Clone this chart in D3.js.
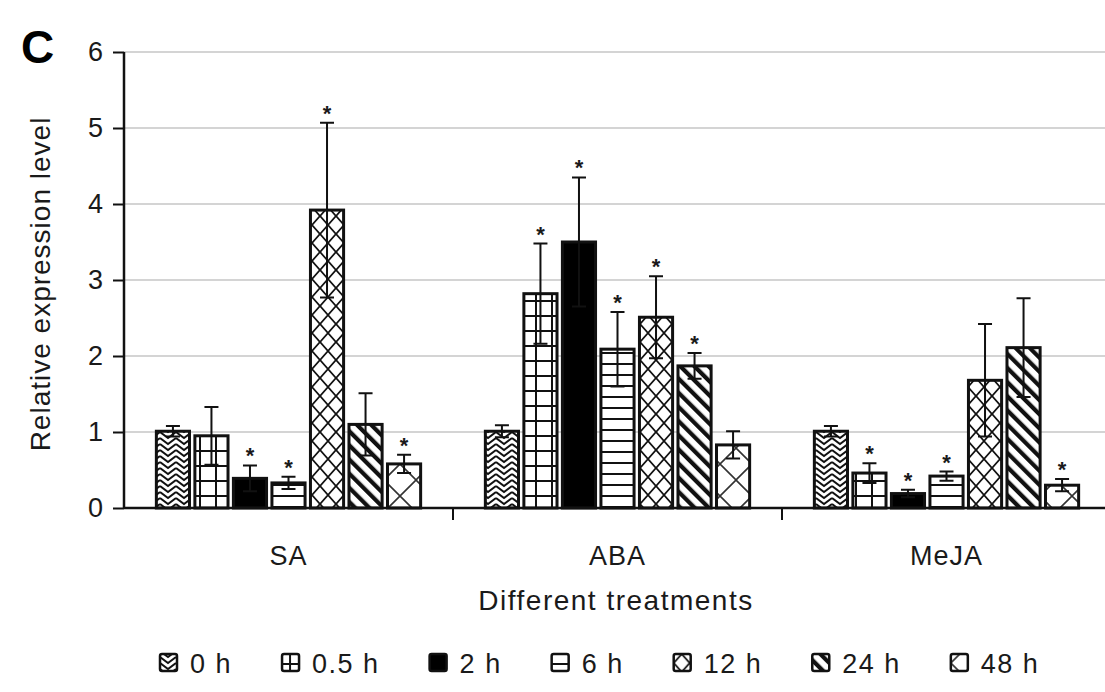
<!doctype html>
<html>
  <head>
    <script src="https://cdnjs.cloudflare.com/ajax/libs/d3/7.8.5/d3.min.js"></script>
    <style>
      body { margin: 0; background: #fff; }
      text { font-family: "Liberation Sans", Arial, sans-serif; fill: #1a1a1a; }
      .grid line { stroke: #d4d4d4; stroke-width: 2; }
      .bar { stroke: #111; stroke-width: 3; }
      .err { stroke: #111; stroke-width: 2; fill: none; }
    </style>
  </head>
  <body>
    <svg id="chart" width="1105" height="692"></svg>
    <script>
      // values
      var groups = ["SA", "ABA", "MeJA"];
      var times = ["0 h", "0.5 h", "2 h", "6 h", "12 h", "24 h", "48 h"];
      var SA = [1.01, 0.95, 0.39, 0.33, 3.92, 1.10, 0.58];
      var SAerr = [0.07, 0.38, 0.17, 0.08, 1.15, 0.41, 0.12];
      var ABA = [1.01, 2.82, 3.50, 2.09, 2.51, 1.87, 0.83];
      var ABAerr = [0.08, 0.66, 0.85, 0.49, 0.54, 0.17, 0.18];
      var MeJA = [1.01, 0.46, 0.19, 0.42, 1.68, 2.11, 0.30];
      var MeJAerr = [0.07, 0.13, 0.05, 0.06, 0.74, 0.65, 0.08];
      var SAstar = [0, 0, 1, 1, 1, 0, 1];
      var ABAstar = [0, 1, 1, 1, 1, 1, 0];
      var MeJAstar = [0, 1, 1, 1, 0, 0, 1];
      var yTicks = [0, 1, 2, 3, 4, 5, 6];

      var means = [SA, ABA, MeJA], errs = [SAerr, ABAerr, MeJAerr], stars = [SAstar, ABAstar, MeJAstar];
      var rows = [];
      groups.forEach(function(g, gi) {
        times.forEach(function(t, ti) {
          rows.push({ group: g, time: t, ti: ti, v: means[gi][ti], e: errs[gi][ti], star: stars[gi][ti] });
        });
      });

      var svg = d3.select("#chart");
      var pLeft = 124, pRight = 1111, pTop = 52, pBottom = 508;

      var x0 = d3.scaleBand().domain(groups).range([pLeft, pRight]).padding(0);
      var x1 = d3.scaleBand().domain(times).range([0, x0.bandwidth()]).paddingInner(0.14).paddingOuter(0.84);
      var y = d3.scaleLinear().domain([0, 6]).range([pBottom, pTop]);

      // hatch patterns, one per time point
      var defs = svg.append("defs");
      function pat(id, w, h, draw, tr) {
        var p = defs.append("pattern").attr("id", id).attr("patternUnits", "userSpaceOnUse")
          .attr("width", w).attr("height", h);
        if (tr) p.attr("patternTransform", tr);
        p.append("rect").attr("width", w).attr("height", h).attr("fill", "#fff");
        draw(p);
      }
      pat("p0", 16, 12, function(p) {
        p.append("path").attr("d", "M0,0 L8,6 L16,0 M0,6 L8,12 L16,6 M0,12 L8,18 L16,12 M0,-6 L8,0 L16,-6")
          .attr("stroke", "#111").attr("stroke-width", 2).attr("fill", "none");
      });
      pat("p1", 16, 15, function(p) {
        p.append("path").attr("d", "M0,1 H16 M8,0 V15").attr("stroke", "#111").attr("stroke-width", 2);
      });
      pat("p2", 10, 10, function(p) {
        p.append("rect").attr("width", 10).attr("height", 10).attr("fill", "#000");
      });
      pat("p3", 10, 11, function(p) {
        p.append("path").attr("d", "M0,1 H10").attr("stroke", "#111").attr("stroke-width", 2);
      });
      pat("p4", 16, 18, function(p) {
        p.append("path").attr("d", "M0,0 L16,18 M16,0 L0,18").attr("stroke", "#111").attr("stroke-width", 1.8);
      });
      pat("p5", 10, 10, function(p) {
        p.append("path").attr("d", "M2,0 V10").attr("stroke", "#111").attr("stroke-width", 4.5);
      }, "rotate(-45)");
      pat("p6", 32, 32, function(p) {
        p.append("path").attr("d", "M0,0 L32,32 M32,0 L0,32").attr("stroke", "#333").attr("stroke-width", 1.6);
      });

      // gridlines
      svg.append("g").attr("class", "grid")
        .selectAll("line").data(yTicks.slice(1)).enter().append("line")
        .attr("x1", pLeft).attr("x2", 1105)
        .attr("y1", function(d) { return y(d); }).attr("y2", function(d) { return y(d); });

      // bars
      var bars = svg.append("g");
      bars.selectAll("rect").data(rows).enter().append("rect")
        .attr("class", "bar")
        .attr("x", function(d) { return x0(d.group) + x1(d.time); })
        .attr("width", x1.bandwidth())
        .attr("y", function(d) { return y(d.v); })
        .attr("height", function(d) { return y(0) - y(d.v); })
        .attr("fill", function(d) { return "url(#p" + d.ti + ")"; });

      // error bars
      var cap = 7;
      var eb = svg.append("g").attr("class", "err");
      eb.selectAll("path").data(rows).enter().append("path")
        .attr("d", function(d) {
          var cx = x0(d.group) + x1(d.time) + x1.bandwidth() / 2;
          var hi = y(d.v + d.e), lo = y(d.v - d.e);
          return "M" + cx + "," + lo + "V" + hi +
            "M" + (cx - cap) + "," + hi + "H" + (cx + cap) +
            "M" + (cx - cap) + "," + lo + "H" + (cx + cap);
        });

      // significance stars
      svg.append("g").selectAll("text").data(rows.filter(function(d) { return d.star; })).enter().append("text")
        .attr("x", function(d) { return x0(d.group) + x1(d.time) + x1.bandwidth() / 2; })
        .attr("y", function(d) { return y(d.v + d.e) - 2; })
        .attr("text-anchor", "middle")
        .style("font-size", "22px").style("font-weight", "bold")
        .text("*");

      // y axis
      var yAxis = svg.append("g").attr("transform", "translate(" + pLeft + ",0)")
        .call(d3.axisLeft(y).tickValues(yTicks).tickSize(11).tickPadding(10).tickFormat(d3.format("d")));
      yAxis.select(".domain").attr("stroke", "#111").attr("stroke-width", 2.5).attr("d", "M0," + pTop + "V" + pBottom);
      yAxis.selectAll(".tick line").attr("stroke", "#111").attr("stroke-width", 2);
      yAxis.selectAll(".tick text").style("font-size", "27px").style("font-family", "Liberation Sans, Arial").attr("fill", "#1a1a1a");

      // x axis
      var xAxis = svg.append("g").attr("transform", "translate(0," + pBottom + ")");
      xAxis.append("line").attr("x1", pLeft).attr("x2", 1105).attr("stroke", "#111").attr("stroke-width", 2.5);
      xAxis.selectAll(".gt").data(groups.slice(1)).enter().append("line")
        .attr("x1", function(d) { return x0(d); }).attr("x2", function(d) { return x0(d); })
        .attr("y1", 0).attr("y2", 12).attr("stroke", "#111").attr("stroke-width", 2);
      xAxis.selectAll(".gl").data(groups).enter().append("text")
        .attr("x", function(d) { return x0(d) + x0.bandwidth() / 2; })
        .attr("y", 57).attr("text-anchor", "middle")
        .style("font-size", "27px").style("letter-spacing", "1px")
        .text(function(d) { return d; });

      svg.append("text").attr("x", 616).attr("y", 610).attr("text-anchor", "middle")
        .style("font-size", "28px").style("letter-spacing", "1.5px")
        .text("Different treatments");

      svg.append("text").attr("transform", "translate(50,284) rotate(-90)").attr("text-anchor", "middle")
        .style("font-size", "28px").style("letter-spacing", "1px")
        .text("Relative expression level");

      svg.append("text").attr("x", 21).attr("y", 63)
        .style("font-size", "46px").style("font-weight", "bold").style("fill", "#000")
        .text("C");

      // legend
      var leg = svg.append("g").attr("transform", "translate(0,663)");
      var lx = 160;
      times.forEach(function(t, i) {
        var it = leg.append("g").attr("transform", "translate(" + lx + ",0)");
        it.append("rect").attr("x", 0).attr("y", -9).attr("width", 17).attr("height", 17)
          .attr("fill", "url(#p" + i + ")").attr("stroke", "#111").attr("stroke-width", 2.5).attr("rx", 2);
        var tx = it.append("text").attr("x", 30).attr("y", 10)
          .style("font-size", "27px").style("letter-spacing", "1.5px").text(t);
        lx += 30 + tx.node().getComputedTextLength() + 50;
      });
    </script>
  </body>
</html>
